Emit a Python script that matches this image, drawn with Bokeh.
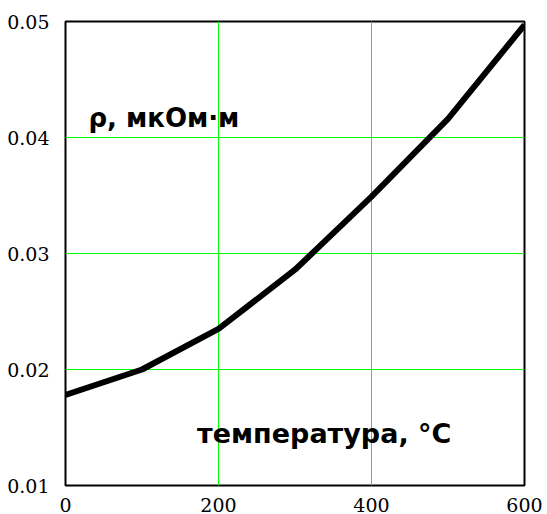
from bokeh.plotting import figure
from bokeh.models import Range1d, FixedTicker, Label
from bokeh.embed import file_html
from bokeh.resources import INLINE

temperature = [0, 100, 200, 300, 400, 500, 600]
resistivity = [0.0178, 0.0200, 0.0235, 0.0286, 0.0349, 0.0416, 0.0497]

x_ticks = [0, 200, 400, 600]
y_ticks = [0.01, 0.02, 0.03, 0.04, 0.05]
x_grid = [200, 400]
y_grid = [0.02, 0.03, 0.04, 0.05]
y_label = "ρ, мкОм·м"
x_label = "температура, °C"

p = figure(width=546, height=514, output_backend="svg", toolbar_location=None,
           x_range=Range1d(0, 600), y_range=Range1d(0.01, 0.05),
           min_border_left=65, min_border_top=21, min_border_right=22,
           min_border_bottom=26)
p.background_fill_color = "white"
p.border_fill_color = "white"
p.outline_line_color = "black"
p.outline_line_width = 2

p.xgrid.ticker = FixedTicker(ticks=x_grid)
p.ygrid.ticker = FixedTicker(ticks=y_grid)
for g in (p.xgrid, p.ygrid):
    g.grid_line_color = "#00ff00"
    g.grid_line_width = 1

p.xaxis.ticker = FixedTicker(ticks=x_ticks)
p.yaxis.ticker = FixedTicker(ticks=y_ticks)
p.yaxis.major_label_overrides = {t: f"{t:.2f}" for t in y_ticks}
for ax in (p.xaxis, p.yaxis):
    ax.axis_line_color = None
    ax.major_tick_line_color = None
    ax.minor_tick_line_color = None
    ax.major_label_text_font = "DejaVu Serif"
    ax.major_label_text_color = "black"
    ax.major_label_text_font_size = "19px"
p.yaxis.major_label_standoff = 10
p.xaxis.major_label_standoff = 6

p.line(temperature, resistivity, line_color="black", line_width=6)

p.add_layout(Label(x=30, y=0.0417, text=y_label, text_font="DejaVu Sans",
                   text_font_style="bold", text_font_size="26px",
                   text_color="black", text_baseline="alphabetic"))
p.add_layout(Label(x=172, y=0.01445, text=x_label, text_font="DejaVu Sans",
                   text_font_style="bold", text_font_size="27px",
                   text_color="black", text_baseline="alphabetic"))

open("out.html", "w").write(file_html(p, INLINE))
